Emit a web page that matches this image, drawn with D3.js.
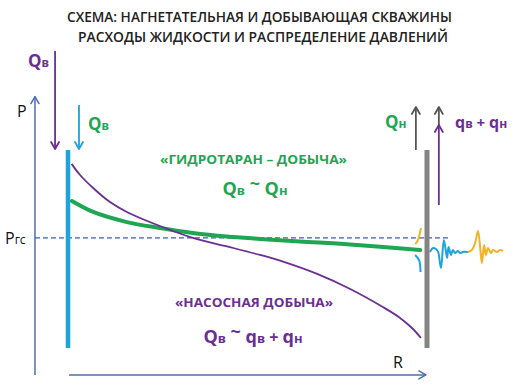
<!DOCTYPE html>
<html><head><meta charset="utf-8">
<script src="https://cdn.jsdelivr.net/npm/d3@7"></script>
<style>body{margin:0;background:#fff}svg{display:block}</style>
</head><body>
<svg id="c" width="515" height="385"></svg>
<script>
// ---- data (R in % of well spacing, P in relative units) ----
const titleLines = ["СХЕМА: НАГНЕТАТЕЛЬНАЯ И ДОБЫВАЮЩАЯ СКВАЖИНЫ", "РАСХОДЫ ЖИДКОСТИ И РАСПРЕДЕЛЕНИЕ ДАВЛЕНИЙ"];
const pumpR = [1, 3.3, 7, 11.7, 16.4, 25.6, 34.8, 44.3, 53.5, 59.9, 69.4, 78.6, 87.7, 92.5, 96.1, 98.3];
const pumpP = [93, 87.5, 80.8, 73.7, 68.7, 61.6, 55.6, 51.3, 47.0, 43.6, 37.4, 29.8, 20.7, 15.2, 9.6, 5.1];
const ramR = [1.1, 7, 16.4, 25.6, 34.8, 44.3, 53.5, 64.6, 78.6, 98.1];
const ramP = [74.2, 68.7, 63.6, 60.6, 58.1, 56.3, 55.1, 53.8, 52.3, 49.5];
const pgc = 55.6;
const waveCyanR = [100.8, 101.7, 102.5, 103.1, 103.9, 104.7, 105.6, 106.0, 106.7, 107.2, 107.8, 108.6, 109.2, 110.0, 111.4];
const waveCyanP = [48.5, 50.5, 50.0, 48.5, 40.4, 54.5, 45.5, 51.0, 47.0, 49.5, 48.0, 49.0, 48.0, 48.5, 48.5];
const waveYellowR = [111.4, 112.5, 113.4, 114.2, 114.8, 115.3, 115.9, 116.4, 117.0, 117.8, 118.4, 119.5, 120.3, 121.2];
const waveYellowP = [48.5, 49.5, 53.0, 59.1, 51.0, 42.9, 52.0, 47.0, 50.5, 48.0, 49.5, 48.5, 49.5, 49.0];
const arcYellowR = [98.3, 97.9, 97.2, 96.7];
const arcYellowP = [60.6, 57.1, 53.5, 52.5];
const arcCyanR = [96.7, 97.8, 98.2];
const arcCyanP = [47.0, 44.4, 38.4];

// ---- scales ----
const svg = d3.select("#c");
const x = d3.scaleLinear().domain([0, 100]).range([68, 427]);
const y = d3.scaleLinear().domain([0, 100]).range([348, 150]);

const C = {purple:"#6b2f93", green:"#1fa653", cyan:"#1ea3dc", gray:"#848484", dgray:"#555", axis:"#4a6fae", dash:"#3c5fa6", yellow:"#f1b326", text:"#222"};
const FONT = "'Open Sans','Noto Sans',sans-serif";

// title
svg.selectAll("text.title").data(titleLines).join("text").attr("class","title")
  .attr("x",(d,i)=> i? 263 : 259.5).attr("y",(d,i)=> i? 42 : 22)
  .attr("text-anchor","middle").attr("font-family",FONT).attr("font-size",14).attr("font-weight",600)
  .attr("fill",C.text).attr("textLength",(d,i)=> i? 370 : 385).attr("lengthAdjust","spacingAndGlyphs")
  .text(d=>d);

// arrow helper (chevron head)
function arrow(x1,y1,x2,y2,color,w){
  svg.append("line").attr("x1",x1).attr("y1",y1).attr("x2",x2).attr("y2",y2)
    .attr("stroke",color).attr("stroke-width",w);
  const ang = Math.atan2(y2-y1,x2-x1), L=7, S=4;
  const bx = x2-L*Math.cos(ang), by = y2-L*Math.sin(ang);
  const px = -Math.sin(ang)*S, py = Math.cos(ang)*S;
  svg.append("path").attr("d",`M${bx+px},${by+py}L${x2},${y2}L${bx-px},${by-py}`)
    .attr("fill","none").attr("stroke",color).attr("stroke-width",w).attr("stroke-linejoin","round").attr("stroke-linecap","round");
}

// axes
arrow(x(-9.2), y(-13.6), x(-9.2), y(127), C.axis, 1.5);
arrow(x(0.3), y(-13.6), x(99.7), y(-13.6), C.axis, 1.5);

// Pgc dashed line
svg.append("line").attr("x1",x(-9.2)).attr("x2",x(106.4)).attr("y1",y(pgc)).attr("y2",y(pgc))
  .attr("stroke",C.dash).attr("stroke-width",1.2).attr("stroke-dasharray","5,3");

// wells
svg.append("line").attr("x1",x(0)).attr("x2",x(0)).attr("y1",y(0)).attr("y2",y(100))
  .attr("stroke",C.cyan).attr("stroke-width",4.5);
svg.append("line").attr("x1",x(100)).attr("x2",x(100)).attr("y1",y(0)).attr("y2",y(100))
  .attr("stroke",C.gray).attr("stroke-width",5);

// flow arrows
arrow(x(-3.6), y(150), x(-3.6), y(100.5), C.purple, 1.8);
arrow(x(3.06), y(122.7), x(3.06), y(100.5), C.cyan, 1.8);
arrow(x(96.9), y(100), x(96.9), y(121.7), C.dgray, 1.8);
arrow(x(103.3), y(112.6), x(103.3), y(121.7), C.dgray, 1.8);
arrow(x(103.3), y(72.2), x(103.3), y(112.6), C.purple, 1.8);

// curves
const line = d3.line().x(d=>x(d[0])).y(d=>y(d[1])).curve(d3.curveCatmullRom.alpha(0.5));
const zip = (a,b)=>a.map((v,i)=>[v,b[i]]);
svg.append("path").attr("d",line(zip(ramR,ramP))).attr("fill","none").attr("stroke",C.green).attr("stroke-width",4).attr("stroke-linecap","round");
svg.append("path").attr("d",line(zip(pumpR,pumpP))).attr("fill","none").attr("stroke",C.purple).attr("stroke-width",1.8);
svg.append("path").attr("d",line(zip(arcYellowR,arcYellowP))).attr("fill","none").attr("stroke",C.yellow).attr("stroke-width",2);
svg.append("path").attr("d",line(zip(arcCyanR,arcCyanP))).attr("fill","none").attr("stroke",C.cyan).attr("stroke-width",2);
svg.append("path").attr("d",line(zip(waveCyanR,waveCyanP))).attr("fill","none").attr("stroke",C.cyan).attr("stroke-width",2);
svg.append("path").attr("d",line(zip(waveYellowR,waveYellowP))).attr("fill","none").attr("stroke",C.yellow).attr("stroke-width",2);

// labels
function label(xp,yp,parts,opts){
  const t = svg.append("text").attr("x",xp).attr("y",yp).attr("font-family",FONT)
    .attr("font-size",opts.size).attr("font-weight",opts.weight||700).attr("fill",opts.color)
    .attr("text-anchor",opts.anchor||"start");
  if(opts.len) t.attr("textLength",opts.len).attr("lengthAdjust","spacingAndGlyphs");
  parts.forEach(p=>{
    const s = t.append("tspan").text(p[0]);
    if(p[1]) s.attr("font-size",p[1]);
    if(p[2]) s.attr("dy",p[2]);
  });
  return t;
}
label(28,67,[["Q"],["в",12]],{size:17,color:C.purple});
label(17,117,[["P"]],{size:16,weight:400,color:"#111"});
label(5,244,[["P"],["гс",12]],{size:16,weight:400,color:"#111"});
label(393,368,[["R"]],{size:16,weight:400,color:"#111"});
label(88,130,[["Q"],["в",12]],{size:17,color:C.green});
label(385,128,[["Q"],["н",12]],{size:17,color:C.green});
label(455,128,[["q",16],["в",12],[" + ",15],["q",16],["н",12]],{size:15,color:C.purple});

label(253.5,164,[["«ГИДРОТАРАН – ДОБЫЧА»"]],{size:13,color:C.green,anchor:"middle",len:187});
label(255,195,[["Q"],["в",13],[" ~ ",18,-5],["Q",18,5],["н",13]],{size:18,color:C.green,anchor:"middle"});
label(254,307,[["«НАСОСНАЯ ДОБЫЧА»"]],{size:13,color:C.purple,anchor:"middle",len:158});
label(253,343,[["Q"],["в",13],[" ~ ",18,-5],["q",18,5],["в",13],[" + ",16],["q",18],["н",13]],{size:18,color:C.purple,anchor:"middle"});
</script>
</body></html>
